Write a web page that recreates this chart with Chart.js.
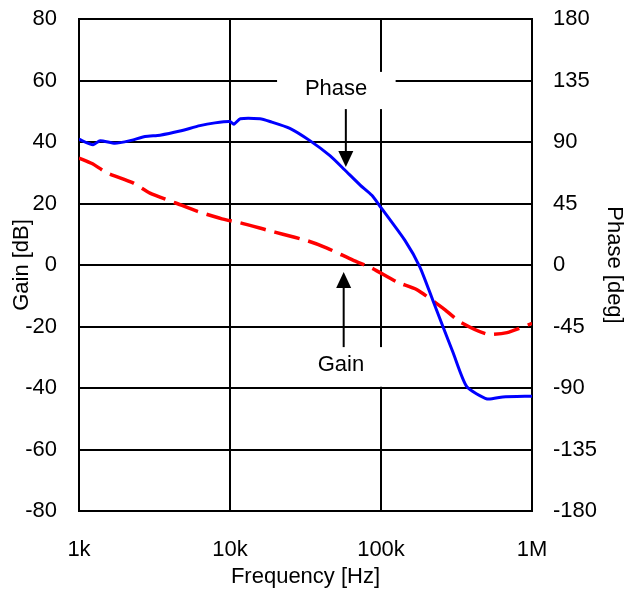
<!DOCTYPE html>
<html>
<head>
<meta charset="utf-8">
<script src="https://cdn.jsdelivr.net/npm/chart.js@4/dist/chart.umd.min.js"></script>
<style>
  html, body { margin: 0; padding: 0; background: #fff; }
  #wrap { width: 627px; height: 594px; }
</style>
</head>
<body>
<div id="wrap"><canvas id="bode"></canvas></div>
<script>
// values
const phaseFreq = [1000, 1240, 1380, 1730, 2180, 2740, 3440, 4660, 6320, 7950, 10000, 10600, 11700, 15800, 18400, 24900, 33800, 45900, 57600, 72800, 87000, 100000, 144000, 181000, 220000, 257000, 300000, 370000, 505000, 640000, 1000000];
const phaseDeg = [92, 88, 91, 89, 91, 94, 95, 98, 102, 104, 105, 103, 107, 107, 105, 100, 91, 80, 69.5, 58.5, 51, 42, 18, -1.5, -25.6, -45, -64, -89, -98, -96.5, -96];
const gainFreq = [1000, 1220, 1530, 2280, 2950, 4460, 6040, 8830, 11700, 17500, 22400, 32900, 43900, 65200, 87000, 127000, 172000, 257000, 334000, 505000, 684000, 1000000];
const gainDb = [34.8, 33, 30, 26.7, 23.4, 20, 17.5, 15, 13.7, 11.4, 10, 7.8, 5.5, 1.6, -1, -5.5, -8, -14, -18.5, -22.5, -22, -19];
const freqTicks = [1000, 10000, 100000, 1000000];
const freqLabels = ['1k', '10k', '100k', '1M'];

const font = { family: "'Liberation Sans', Arial, sans-serif", size: 22 };

const notes = {
  id: 'notes',
  afterDatasetsDraw(chart) {
    const { ctx, scales: { x, y } } = chart;
    const px = v => x.getPixelForValue(v);
    const py = v => y.getPixelForValue(v);
    ctx.save();
    // white boxes behind the labels
    ctx.fillStyle = '#fff';
    ctx.fillRect(px(20500), py(62.8), px(125000) - px(20500), py(50.7) - py(62.8));
    ctx.fillRect(px(29000), py(-26.7), px(111000) - px(29000), py(-39.6) - py(-26.7));
    ctx.fillStyle = '#000';
    ctx.font = "22px 'Liberation Sans', Arial, sans-serif";
    ctx.textAlign = 'center';
    ctx.textBaseline = 'middle';
    ctx.fillText('Phase', px(50400), py(57.2));
    ctx.fillText('Gain', px(54300), py(-32.5));
    // arrows
    const arrow = (xv, y0, y1) => {
      const ax = px(xv), a = py(y0), b = py(y1);
      const dir = b > a ? 1 : -1;
      ctx.strokeStyle = '#000';
      ctx.lineWidth = 2;
      ctx.beginPath();
      ctx.moveTo(ax, a);
      ctx.lineTo(ax, b - dir * 14);
      ctx.stroke();
      ctx.beginPath();
      ctx.moveTo(ax, b);
      ctx.lineTo(ax - 7.5, b - dir * 16);
      ctx.lineTo(ax + 7.5, b - dir * 16);
      ctx.closePath();
      ctx.fill();
    };
    arrow(58500, 50.7, 31.9);
    arrow(56600, -26.7, -2.3);
    ctx.restore();
  }
};

new Chart(document.getElementById('bode').getContext('2d'), {
  type: 'line',
  data: {
    datasets: [{
      label: 'Phase',
      data: phaseFreq.map((f, i) => ({ x: f, y: phaseDeg[i] })),
      yAxisID: 'y2',
      borderColor: '#0000ff',
      borderWidth: 3,
      pointRadius: 0,
      tension: 0.2
    }, {
      label: 'Gain',
      data: gainFreq.map((f, i) => ({ x: f, y: gainDb[i] })),
      yAxisID: 'y',
      borderColor: '#ff0000',
      borderWidth: 3.5,
      borderDash: [26, 9],
      pointRadius: 0,
      tension: 0.2
    }]
  },
  options: {
    responsive: true,
    maintainAspectRatio: false,
    animation: false,
    layout: { padding: { top: 19 } },
    plugins: { legend: { display: false }, tooltip: { enabled: false } },
    scales: {
      x: {
        type: 'logarithmic',
        min: 1000,
        max: 1000000,
        afterBuildTicks: s => { s.ticks = freqTicks.map(v => ({ value: v })); },
        afterFit: s => { s.height = 83; },
        ticks: {
          color: '#000', font, padding: 26, maxRotation: 0,
          callback: (v, i) => freqLabels[i]
        },
        grid: { color: '#000', lineWidth: 2, drawTicks: false },
        border: { color: '#000', width: 2 },
        title: { display: true, text: 'Frequency [Hz]', color: '#000', font, padding: { top: 0, bottom: 4 } }
      },
      y: {
        position: 'left',
        min: -80, max: 80,
        afterFit: s => { s.width = 79; s.paddingTop = 0; s.paddingBottom = 0; },
        ticks: { stepSize: 20, color: '#000', font, padding: 22 },
        grid: { color: '#000', lineWidth: 2, drawTicks: false },
        border: { color: '#000', width: 2 },
        title: { display: true, text: 'Gain [dB]', color: '#000', font, padding: { top: 9, bottom: 0 } }
      },
      y2: {
        position: 'right',
        min: -180, max: 180,
        afterFit: s => { s.width = 95; s.paddingTop = 0; s.paddingBottom = 0; },
        ticks: { stepSize: 45, color: '#000', font, padding: 21 },
        grid: { display: false, drawTicks: false },
        border: { color: '#000', width: 2 },
        title: { display: true, text: 'Phase [deg]', color: '#000', font, padding: { top: 0, bottom: 0 } }
      }
    }
  },
  plugins: [notes]
});
</script>
</body>
</html>
